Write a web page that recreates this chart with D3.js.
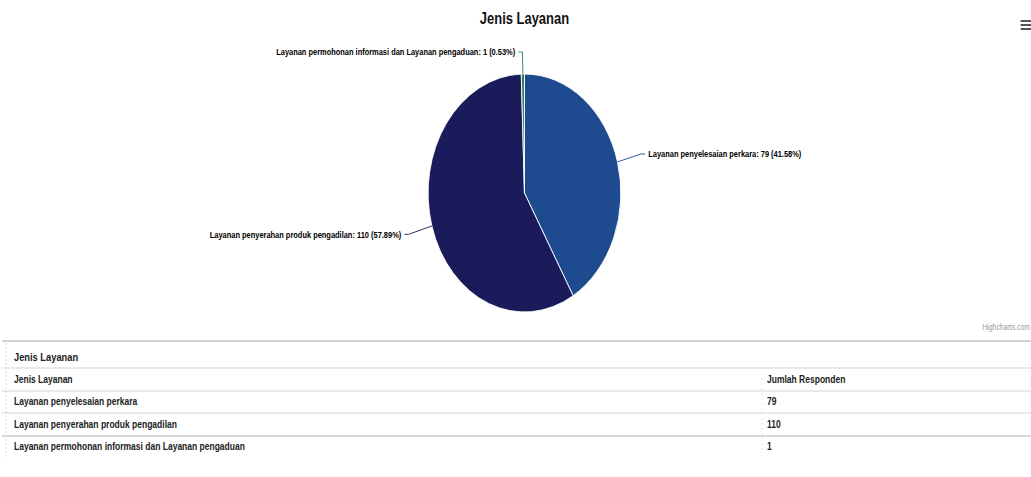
<!DOCTYPE html>
<html>
<head>
<meta charset="utf-8">
<script src="https://cdn.jsdelivr.net/npm/d3@7/dist/d3.min.js"></script>
<style>
  html, body { margin: 0; padding: 0; background: #fff; overflow: hidden; }
  svg { display: block; font-family: "Liberation Sans", Arial, Helvetica, sans-serif; }
</style>
</head>
<body>
<svg id="chart" width="1031" height="477"></svg>
<script>
// Service types and number of respondents for each
const categories = [
  "Layanan penyelesaian perkara",
  "Layanan penyerahan produk pengadilan",
  "Layanan permohonan informasi dan Layanan pengaduan"
];
const values = [79, 110, 1];
const colors = ["#1e4b90", "#1b1b5c", "#2f7d5d"];
const chartTitle = "Jenis Layanan";
const tableCaption = "Jenis Layanan";
const tableHeaders = ["Jenis Layanan", "Jumlah Responden"];

// The whole drawing is laid out in a wider space and squeezed horizontally
const SX = 0.81;
const W = 1031 / SX;
const svg = d3.select("#chart");
const root = svg.append("g").attr("transform", `scale(${SX},1)`);

const total = d3.sum(values);
const pct = d3.format(".2f");

// Title
root.append("text")
  .attr("x", 647.5).attr("y", 24)
  .attr("text-anchor", "middle")
  .attr("font-size", 16).attr("font-weight", "bold").attr("fill", "#111")
  .text(chartTitle);

// Export menu icon
const menu = root.append("g").attr("transform", `translate(${1260},20)`);
[0, 4, 8].forEach(dy => menu.append("rect")
  .attr("x", 0).attr("y", dy).attr("width", 13).attr("height", 2).attr("fill", "#555"));

// Pie
const cx = 647.5, cy = 193, r = 119;
const pie = d3.pie().sort(null).value(d => d)(values);
const arc = d3.arc().innerRadius(0).outerRadius(r);
const pg = root.append("g").attr("transform", `translate(${cx},${cy})`);
pg.selectAll("path.slice").data(pie).join("path")
  .attr("class", "slice")
  .attr("d", arc)
  .attr("fill", (d, i) => colors[i])
  .attr("stroke", "#fff").attr("stroke-width", 1).attr("stroke-linejoin", "round");

// Data labels with connectors
const labelDist = 30, plotTop = 52;
const lg = root.append("g");
pie.forEach((d, i) => {
  const mid = (d.startAngle + d.endAngle) / 2;
  const s = Math.sin(mid), c = Math.cos(mid);
  const ex = cx + r * s, ey = cy - r * c;
  const ax = cx + (r + labelDist) * s;
  const ay = Math.max(plotTop, cy - (r + labelDist) * c);
  const right = s >= 0;
  const endX = ax + (right ? 5 : -5);
  lg.append("path")
    .attr("d", `M${ex},${ey}L${ax},${ay}L${endX},${ay}`)
    .attr("fill", "none")
    .attr("stroke", colors[i]).attr("stroke-width", 1);
  lg.append("text")
    .attr("x", ax + (right ? 9 : -9)).attr("y", ay)
    .attr("dy", "0.35em")
    .attr("text-anchor", right ? "start" : "end")
    .attr("font-size", 9.2).attr("font-weight", "bold").attr("fill", "#000")
    .text(`${categories[i]}: ${values[i]} (${pct(values[i] / total * 100)}%)`);
});

// Credits
root.append("text")
  .attr("x", 1030 / SX).attr("y", 330)
  .attr("text-anchor", "end")
  .attr("font-size", 8.5).attr("fill", "#999")
  .text("Highcharts.com");

// Data table below the chart
const tg = root.append("g");
const tLeft = 6 / SX, textX = 14 / SX, valX = 767 / SX, colX = 762 / SX;
const captionY = 357, headerY = 379, rowH = 22.5;
const lines = [
  { y: 341, c: "#9a9a9a" },
  { y: 368, c: "#cfcfcf" },
  { y: 391, c: "#cfcfcf" },
  { y: 413, c: "#cfcfcf" },
  { y: 436, c: "#a8a8a8" }
];
tg.selectAll("line.h").data(lines).join("line")
  .attr("class", "h")
  .attr("x1", 2 / SX).attr("x2", W)
  .attr("y1", d => d.y).attr("y2", d => d.y)
  .attr("stroke", d => d.c).attr("stroke-width", 1);
tg.append("line")
  .attr("x1", tLeft).attr("x2", tLeft).attr("y1", 343).attr("y2", 458)
  .attr("stroke", "#d8d8d8").attr("stroke-dasharray", "2,2");
tg.append("line")
  .attr("x1", colX).attr("x2", colX).attr("y1", headerY - 6).attr("y2", headerY + 3 * rowH + 6)
  .attr("stroke", "#e2e2e2").attr("stroke-dasharray", "2,3");

tg.append("text")
  .attr("x", textX).attr("y", captionY).attr("dy", "0.35em")
  .attr("font-size", 11.5).attr("font-weight", "bold").attr("fill", "#222")
  .text(tableCaption);

tg.append("text")
  .attr("x", textX).attr("y", headerY).attr("dy", "0.35em")
  .attr("font-size", 10.5).attr("font-weight", "bold").attr("fill", "#222")
  .text(tableHeaders[0]);
tg.append("text")
  .attr("x", valX).attr("y", headerY).attr("dy", "0.35em")
  .attr("font-size", 10.5).attr("font-weight", "bold").attr("fill", "#222")
  .text(tableHeaders[1]);

categories.forEach((cat, i) => {
  const y = headerY + (i + 1) * rowH;
  tg.append("text")
    .attr("x", textX).attr("y", y).attr("dy", "0.35em")
    .attr("font-size", 10.5).attr("font-weight", "bold").attr("fill", "#222")
    .text(cat);
  tg.append("text")
    .attr("x", valX).attr("y", y).attr("dy", "0.35em")
    .attr("font-size", 10.5).attr("font-weight", "bold").attr("fill", "#222")
    .text(values[i]);
});
</script>
</body>
</html>
